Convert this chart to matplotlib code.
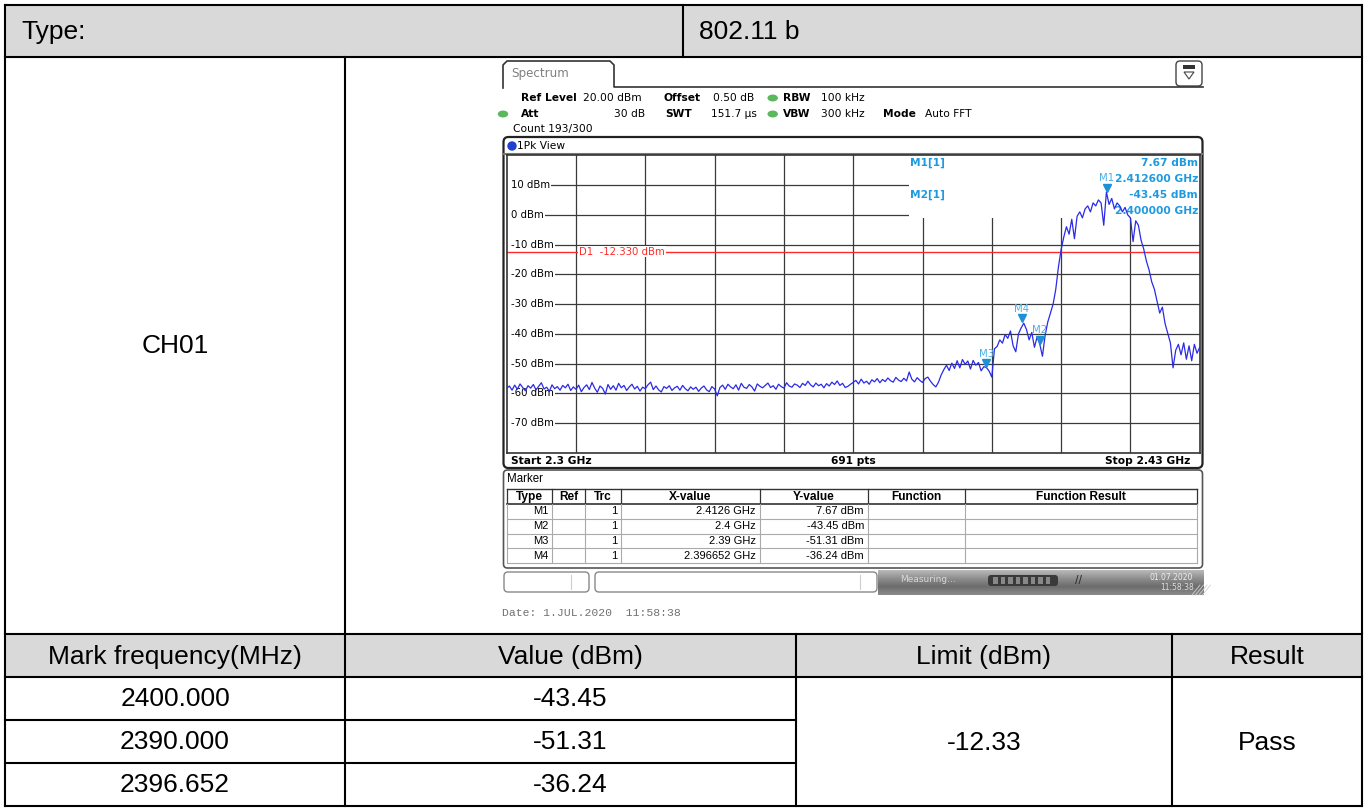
import numpy as np
import matplotlib
matplotlib.use("Agg")
import matplotlib.pyplot as plt
from matplotlib.patches import Rectangle, FancyBboxPatch, Ellipse, Polygon
from matplotlib.colors import LinearSegmentedColormap
import matplotlib.transforms as mtransforms

W, H = 1367, 808

# ---- report table
type_label = "Type:"
type_value = "802.11 b"
channel = "CH01"
result_headers = ["Mark frequency(MHz)", "Value (dBm)", "Limit (dBm)", "Result"]
mark_freqs = ["2400.000", "2390.000", "2396.652"]
mark_values = ["-43.45", "-51.31", "-36.24"]
limit_value = "-12.33"
result_value = "Pass"

# ---- analyzer settings
start_mhz, stop_mhz = 2300, 2430
sweep_points = 691
ref_level = 20
display_line = -12.33
date_text = "Date: 1.JUL.2020  11:58:38"

# ---- trace, 0.5 MHz steps from 2300 to 2430 MHz
trace_dbm = [
    -58.3, -57.5, -58.9, -57.2, -58.6, -56.8, -58.0, -59.1, -57.4, -58.2,
    -57.0, -58.8, -57.6, -56.4, -58.5, -57.9, -59.3, -57.1, -58.4, -57.7,
    -58.9, -57.3, -58.1, -56.9, -59.0, -57.8, -58.6, -57.2, -59.4, -58.0,
    -57.1, -58.7, -56.3, -58.2, -59.6, -57.5, -58.3, -60.2, -57.0, -58.6,
    -57.4, -58.9, -56.6, -58.1, -57.3, -59.0, -57.8, -56.9, -58.5, -57.6,
    -59.2, -57.9, -58.4, -57.1, -56.2, -58.7, -57.5, -58.8, -59.5, -57.7,
    -58.3, -57.4, -59.0, -58.1, -57.6, -58.9, -57.3, -58.4, -59.1, -57.8,
    -58.6, -57.9, -59.3, -58.2, -57.5, -58.8, -59.4, -57.7, -58.5, -60.8,
    -58.0, -57.2, -58.6, -56.9, -57.8, -58.4, -57.1, -58.9, -56.6, -57.9,
    -58.3, -57.0, -57.8, -59.2, -56.8, -57.6, -58.1, -57.3, -56.5, -58.0,
    -57.4, -58.6, -56.9, -57.7, -58.2, -56.4, -57.5, -57.9, -56.8, -57.2,
    -58.0, -56.6, -57.3, -55.9, -57.1, -57.8, -56.5, -57.4, -56.9, -58.1,
    -56.7, -57.5, -56.2, -57.0, -55.8, -57.3, -56.6, -58.0, -57.6, -56.9,
    -56.3, -55.6, -56.8, -55.2, -56.5, -55.9, -56.9, -55.4, -56.1, -55.0,
    -56.4, -55.3, -56.0, -54.8, -55.7, -56.2, -54.6, -55.5, -56.0, -54.9,
    -55.8, -52.8, -55.2, -56.1, -54.7, -55.6, -56.3, -55.0, -54.5, -55.9,
    -57.0, -57.8, -56.2, -53.8, -52.0, -50.5, -52.3, -49.8, -51.6, -49.0,
    -51.4, -48.6, -50.2, -49.1, -51.8, -48.9, -50.5, -49.6, -52.4, -51.0,
    -51.31, -52.5, -54.5, -45.0, -44.2, -42.0, -43.1, -40.2, -41.5, -39.0,
    -44.0, -46.0, -40.0, -38.0, -36.4, -38.5, -42.0, -39.5, -44.5, -41.0,
    -43.45, -47.5, -40.5, -36.0, -33.0, -30.0, -25.0, -17.5, -11.7, -7.5,
    -4.0, -6.5, -1.5, -8.0, -0.5, 1.0, -1.0, 2.0, 3.0, 1.0,
    4.0, 3.0, 5.0, 4.0, -3.5, 7.67, 3.5, 5.5, 2.0, 4.0,
    3.0, 1.0, 2.5, 0.0, -1.0, -9.0, -2.0, -3.5, -8.5, -11.5,
    -15.5, -18.5, -22.5, -25.0, -29.0, -33.0, -31.0, -36.5, -39.7, -43.0,
    -51.4, -45.5, -43.5, -47.0, -43.0, -48.5, -44.0, -49.0, -43.5, -46.5,
    -44.5,
]
freq_mhz = np.linspace(start_mhz, stop_mhz, len(trace_dbm))

marker_names = ["M1", "M2", "M3", "M4"]
marker_freq_ghz = [2.4126, 2.4, 2.39, 2.396652]
marker_dbm = [7.67, -43.45, -51.31, -36.24]

MAIN = ["Liberation Sans", "DejaVu Sans"]
SCR = ["DejaVu Sans"]
NARROW = ["Liberation Sans Narrow", "Liberation Sans", "DejaVu Sans"]
MONO = ["Liberation Mono", "DejaVu Sans Mono"]
BLUE_TXT = "#1e9be0"


def ghz(f):
    return f"{f:.6f}".rstrip("0").rstrip(".") + " GHz"


def main():
    fig = plt.figure(figsize=(W / 100, H / 100), dpi=100)
    bg = fig.add_axes([0, 0, 1, 1])
    bg.axis("off")

    draw_table(bg)
    draw_screen_chrome(bg)
    draw_marker_table(bg)

    # spectrum area
    L, R, T, B = 506.7, 1199.7, 155.3, 453.0
    ax = fig.add_axes([L / W, 1 - B / H, (R - L) / W, (B - T) / H])
    draw_spectrum(fig, ax, bg)

    bg.set_xlim(0, W)
    bg.set_ylim(H, 0)
    fig.savefig("out.png", dpi=100)


def draw_table(bg):
    lw = 1.5
    gray = "#d9d9d9"
    bg.add_patch(Rectangle((5, 5), 1357, 52, fc=gray, ec="none"))
    bg.add_patch(Rectangle((5, 634), 1357, 43, fc=gray, ec="none"))

    def hl(y, x0, x1):
        bg.plot([x0, x1], [y, y], color="k", lw=lw, solid_capstyle="projecting")

    def vl(x, y0, y1):
        bg.plot([x, x], [y0, y1], color="k", lw=lw, solid_capstyle="projecting")

    for y in (5, 57, 634, 677, 806):
        hl(y, 5, 1362)
    for y in (720, 763):
        hl(y, 5, 796)
    vl(5, 5, 806)
    vl(1362, 5, 806)
    vl(683, 5, 57)
    vl(345, 57, 806)
    vl(796, 634, 806)
    vl(1172, 634, 806)

    fs = 19
    bg.text(21, 32, type_label, fontsize=fs, family=MAIN, va="center", ha="left")
    bg.text(699, 32, type_value, fontsize=fs, family=MAIN, va="center", ha="left")
    bg.text(175, 346, channel, fontsize=fs, family=MAIN, va="center", ha="center")
    centers = [175, 570, 984, 1267]
    for cx, h in zip(centers, result_headers):
        bg.text(cx, 657, h, fontsize=fs, family=MAIN, va="center", ha="center")
    for i, (f, v) in enumerate(zip(mark_freqs, mark_values)):
        y = 699 + i * 43
        bg.text(175, y, f, fontsize=fs, family=MAIN, va="center", ha="center")
        bg.text(570, y, v, fontsize=fs, family=MAIN, va="center", ha="center")
    bg.text(984, 743, limit_value, fontsize=fs, family=MAIN, va="center", ha="center")
    bg.text(1267, 743, result_value, fontsize=fs, family=MAIN, va="center", ha="center")


def draw_screen_chrome(bg):
    fs = 7.7
    # tab + top line
    bg.plot([503, 503, 507, 610, 614, 614, 1203], [88, 65, 61, 61, 65, 87, 87],
            color="#333", lw=1.2)
    bg.text(511, 74, "Spectrum", fontsize=8.6, family=SCR, color="#808080", va="center")
    bg.add_patch(FancyBboxPatch((1176, 61), 26, 25, boxstyle="round,pad=0,rounding_size=4",
                                fc="white", ec="#444", lw=1))
    bg.add_patch(Rectangle((1183, 65), 12, 4, fc="#333", ec="none"))
    bg.add_patch(Polygon([(1184, 72), (1194, 72), (1189, 79)], closed=True, fc="none",
                         ec="#444", lw=0.8))

    for (x, y) in [(503, 114), (772.7, 98), (772.7, 114)]:
        bg.add_patch(Ellipse((x, y), 9, 5.5, color="#5cb85c"))

    def t(x, y, s, bold=False, ha="left"):
        bg.text(x, y, s, fontsize=fs, family=SCR, va="center", ha=ha,
                fontweight="bold" if bold else "normal")

    t(521, 98, "Ref Level", True)
    t(583, 98, f"{ref_level:.2f} dBm")
    t(663, 98, "Offset", True)
    t(713, 98, "0.50 dB")
    t(783, 98, "RBW", True)
    t(821, 98, "100 kHz")
    t(521, 114, "Att", True)
    t(645, 114, "30 dB", ha="right")
    t(665, 114, "SWT", True)
    t(711, 114, "151.7 µs")
    t(783, 114, "VBW", True)
    t(821, 114, "300 kHz")
    t(883, 114, "Mode", True)
    t(925, 114, "Auto FFT")
    t(513, 129, "Count 193/300")

    # diagram frame
    bg.add_patch(FancyBboxPatch((503.5, 137), 699, 331, boxstyle="round,pad=0,rounding_size=5",
                                fc="none", ec="#222", lw=1.6))
    bg.plot([503.5, 1202.5], [154, 154], color="#777", lw=1.5)
    bg.add_patch(Ellipse((512, 146), 8, 8, color="#2040d0"))
    t(517, 146, "1Pk View")
    t(511, 461, f"Start {start_mhz / 1000:g} GHz", True)
    t(853, 461, f"{sweep_points} pts", True, ha="center")
    t(1190, 461, f"Stop {stop_mhz / 1000:g} GHz", True, ha="right")

    # status bar
    for (x0, x1, d) in [(504, 589, 571), (595, 877, 860)]:
        bg.add_patch(FancyBboxPatch((x0, 572), x1 - x0, 20, boxstyle="round,pad=0,rounding_size=4",
                                    fc="white", ec="#888", lw=1))
        bg.plot([d, d], [575, 589], color="#ccc", lw=0.8)
    cmap = LinearSegmentedColormap.from_list("bar", ["#b8b8b8", "#8e8e8e", "#6c6c6c", "#8a8a8a"])
    bg.imshow(np.linspace(0, 1, 30).reshape(-1, 1), extent=[878, 1204, 595, 570],
              cmap=cmap, aspect="auto", zorder=0.5)
    for k in range(4):
        x0 = 1192 + k * 3.5
        bg.plot([x0, x0 + 8], [595, 585], color="#d0d0d0", lw=0.6, zorder=0.6)
    bg.text(900, 580, "Measuring...", fontsize=6.5, family=SCR, color="#d8d8d8", va="center")
    bg.add_patch(FancyBboxPatch((988, 575), 70, 11, boxstyle="round,pad=0,rounding_size=3",
                                fc="#3a3a3a", ec="none"))
    for k in range(8):
        bg.add_patch(Rectangle((993 + k * 7.5, 577), 4.5, 7, fc="#888", ec="none"))
    bg.text(1075, 580, "//", fontsize=7, family=SCR, color="#333", va="center",
            fontweight="bold")
    bg.text(1150, 577, "01.07.2020", fontsize=5.5, family=SCR, color="#eee", va="center")
    bg.text(1160, 588, "11:58:38", fontsize=5.5, family=SCR, color="#ddd", va="center")

    bg.text(502, 613, date_text, fontsize=8.2, family=MONO, color="#707070", va="center")


def draw_marker_table(bg):
    bg.add_patch(FancyBboxPatch((503.5, 470), 699, 98, boxstyle="round,pad=0,rounding_size=4",
                                fc="none", ec="#555", lw=1.2))
    bg.text(507, 479, "Marker", fontsize=8.3, family=NARROW, va="center")
    cols = [507, 552, 585, 621, 760, 868, 965, 1197]
    heads = ["Type", "Ref", "Trc", "X-value", "Y-value", "Function", "Function Result"]
    top, hb = 489, 504
    rows = [hb + 14.75 * k for k in range(5)]
    bg.plot([cols[0], cols[-1]], [top, top], color="#333", lw=1)
    bg.plot([cols[0], cols[-1]], [hb, hb], color="#333", lw=1.2)
    for x in cols:
        bg.plot([x, x], [top, hb], color="#333", lw=0.9)
        bg.plot([x, x], [hb, rows[-1]], color="#aaa", lw=0.8)
    for y in rows[1:]:
        bg.plot([cols[0], cols[-1]], [y, y], color="#aaa", lw=0.8)
    for i, h in enumerate(heads):
        bg.text((cols[i] + cols[i + 1]) / 2, 497, h, fontsize=8.6, family=NARROW,
                fontweight="bold", ha="center", va="center")
    for k, (n, f, v) in enumerate(zip(marker_names, marker_freq_ghz, marker_dbm)):
        yc = (rows[k] + rows[k + 1]) / 2
        vals = [n, "", "1", ghz(f), f"{v:.2f} dBm"]
        for i, s in enumerate(vals):
            bg.text(cols[i + 1] - 4, yc, s, fontsize=8, family=NARROW, ha="right", va="center")


def draw_spectrum(fig, ax, bg):
    ax.set_xlim(start_mhz, stop_mhz)
    ax.set_ylim(-80, ref_level)
    ax.set_xticks([])
    ax.set_yticks([])
    for s in ax.spines.values():
        s.set_color("#333")
        s.set_linewidth(1.2)

    for f in np.arange(start_mhz + 13, stop_mhz, 13):
        ax.axvline(f, color="#3a3a3a", lw=0.9, zorder=1)
    for lvl in range(10, -80, -10):
        ax.axhline(lvl, color="#3a3a3a", lw=0.9, zorder=1)
        ax.text(start_mhz + 0.85, lvl, f"{lvl} dBm", fontsize=7.3, family=SCR, va="center",
                ha="left", zorder=2, bbox=dict(fc="white", ec="none", pad=0.7))
    # grid lines start after the level labels
    ax.add_patch(Rectangle((start_mhz, -80), 0.8, 100, fc="white", ec="none", zorder=1.5))

    # marker info box hides the grid in the upper right
    ax.add_patch(Rectangle((2375.5, -1.0), 60, 30, fc="white", ec="none", zorder=1.5))

    ax.axhline(display_line, color="#ff2a2a", lw=1, zorder=2.5)
    ax.text(2313.6, display_line, f"D1  {display_line:.3f} dBm", fontsize=7.3, family=SCR,
            color="#ff2a2a", va="center", ha="left", zorder=2.6,
            bbox=dict(fc="white", ec="none", pad=0.6))

    ax.plot(freq_mhz, trace_dbm, color="#2a2ae8", lw=0.9, zorder=4)

    tri = mtransforms.offset_copy(ax.transData, fig=fig, x=0, y=4.5, units="dots")
    lab = mtransforms.offset_copy(ax.transData, fig=fig, x=0, y=14, units="dots")
    for n, f, v in zip(marker_names, marker_freq_ghz, marker_dbm):
        ax.plot(f * 1000, v, marker="v", ms=6, color="#1f8fd6", mec="#1f8fd6",
                transform=tri, zorder=5, clip_on=False)
        ax.text(f * 1000, v, n, fontsize=7.3, family=SCR, color="#4aaee6", ha="center",
                va="center", transform=lab, zorder=5)

    # marker readout
    info = [("M1[1]", f"{marker_dbm[0]:.2f} dBm", f"{marker_freq_ghz[0]:.6f} GHz", 163),
            ("M2[1]", f"{marker_dbm[1]:.2f} dBm", f"{marker_freq_ghz[1]:.6f} GHz", 195)]
    for name, lv, fq, y in info:
        ax.text(910, y, name, fontsize=7.7, family=SCR, color=BLUE_TXT, fontweight="bold",
                va="center", ha="left", transform=bg.transData, zorder=3)
        ax.text(1198, y, lv, fontsize=7.7, family=SCR, color=BLUE_TXT, fontweight="bold",
                va="center", ha="right", transform=bg.transData, zorder=3)
        ax.text(1198, y + 16, fq, fontsize=7.7, family=SCR, color=BLUE_TXT, fontweight="bold",
                va="center", ha="right", transform=bg.transData, zorder=3)


if __name__ == "__main__":
    main()
